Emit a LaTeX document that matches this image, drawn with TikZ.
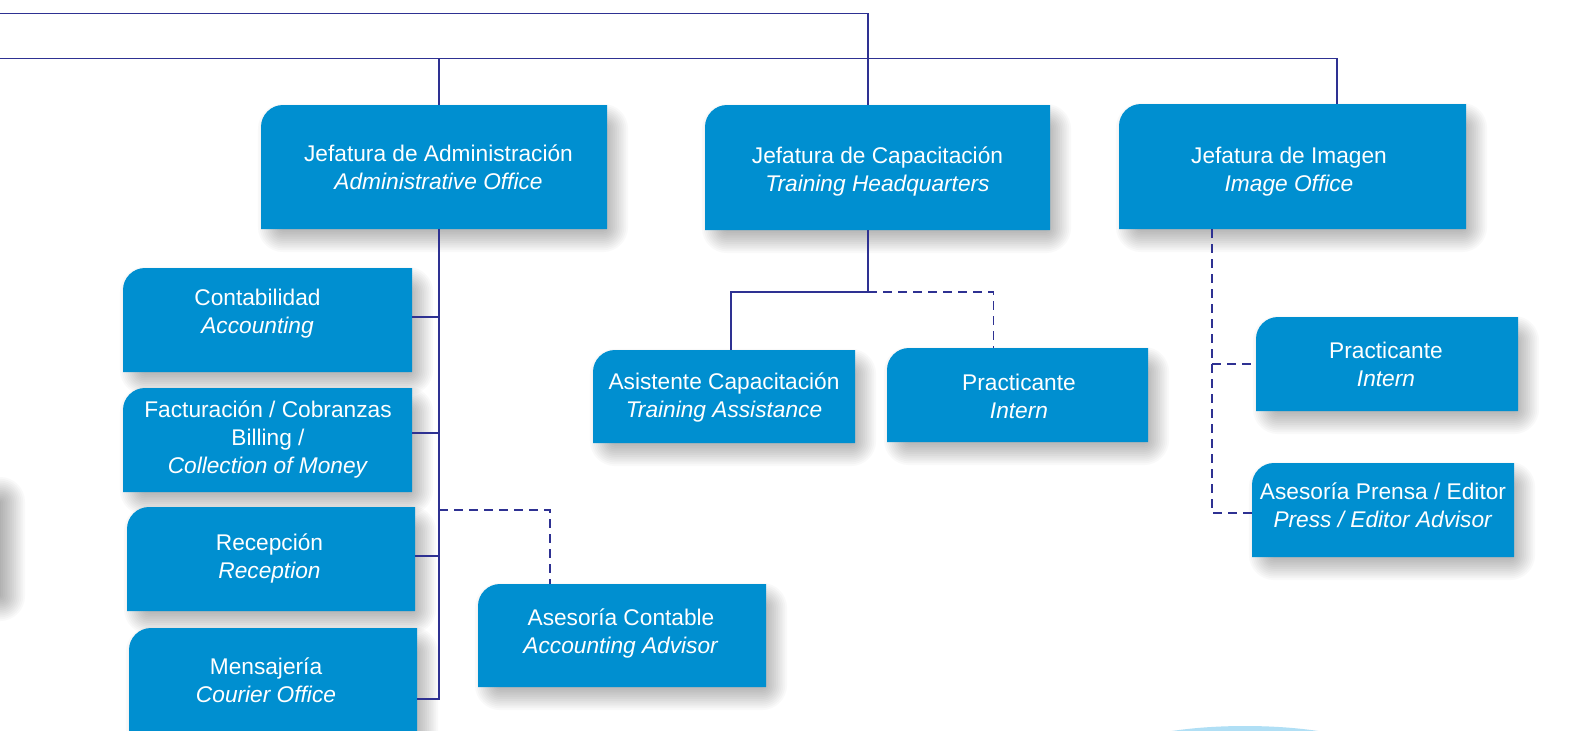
\documentclass[tikz,border=0pt]{standalone}
\usepackage{fontspec}
\setmainfont{Liberation Sans}
\usetikzlibrary{backgrounds,calc}
\definecolor{boxblue}{RGB}{0,143,208}
\definecolor{navy}{RGB}{46,49,146}
\definecolor{paleblue}{RGB}{176,223,245}
\tikzset{
  boxnode/.style={inner sep=0pt, outer sep=0pt, draw=none},
  boxtext/.style={text=white, align=center, inner sep=0pt, font=\fontsize{22.7}{28}\selectfont},
  boxfill/.style={fill=boxblue},
  shadowlayer/.style={fill=black, fill opacity=0.022},
  conn/.style={draw=navy, line width=1.6pt},
  dconn/.style={draw=navy, line width=1.8pt, dash pattern=on 9pt off 6pt},
}
% soft drop shadow: #1 top-left corner, #2 bottom-right corner
\newcommand\softshadow[2]{%
  \foreach \k in {0,...,13}{%
    \pgfmathsetmacro\shT{-13+26*(\k+0.5)/14}%
    \pgfmathsetmacro\shR{max(13-\shT,1)}%
    \fill[shadowlayer, rounded corners=\shR pt] ($#1+(9+\shT,11+\shT)$) rectangle ($#2+(9-\shT,11-\shT)$);
  }}
% #1 name, #2 x1, #3 y1, #4 x2, #5 y2, #6 text dx, #7 text dy, #8 text
\newcommand\orgbox[8]{%
  \node[boxnode, minimum width={(#4-#2)*1pt}, minimum height={(#5-#3)*1pt},
    label={[boxtext, name=#1-t, xshift={(#6)*1pt}, yshift={-(#7)*1pt}]center:{#8}}]
    (#1) at ({(#2+#4)/2},{(#3+#5)/2}) {};
  \begin{scope}[on background layer]
    \softshadow{(#1.north west)}{(#1.south east)}
    \fill[boxfill] (#1.south west) [rounded corners=22pt] -- (#1.north west) [sharp corners] -- (#1.north east) -- (#1.south east) -- cycle;
  \end{scope}}
\begin{document}
\begin{tikzpicture}[x=1pt,y=-1pt]
\useasboundingbox (0,0) rectangle (1588,731);
\begin{scope}[on background layer]
  \fill[white] (0,0) rectangle (1588,731);
  % stray shadow of a box beyond the left edge
  \softshadow{(-300,478)}{(4,598)}
  % pale blue shape at the bottom
  \fill[paleblue] (1245,760) ellipse [x radius=140pt, y radius=34pt];
\end{scope}

\orgbox{adm}{261}{105}{607}{229}{4.5}{0}{Jefatura de Administración\\\textit{Administrative Office}}
\orgbox{cap}{705}{105}{1050}{230}{0}{4}{Jefatura de Capacitación\\\textit{Training Headquarters}}
\orgbox{img}{1119}{104}{1466}{229}{-3.5}{5}{Jefatura de Imagen\\\textit{Image Office}}
\orgbox{cont}{123}{268}{412}{372}{-10}{-6}{Contabilidad\\\textit{Accounting}}
\orgbox{pr2}{1256}{317}{1518}{411}{-1}{0}{Practicante\\\textit{Intern}}
\orgbox{pr1}{887}{348}{1148}{442}{1.5}{1}{Practicante\\\textit{Intern}}
\orgbox{asis}{593}{350}{855}{443}{0}{1}{Asistente Capacitación\\\textit{Training Assistance}}
\orgbox{fact}{123}{388}{412}{492}{0.5}{-1}{Facturación / Cobranzas\\Billing /\\\textit{Collection of Money}}
\orgbox{pre}{1252}{463}{1514}{557}{0}{-5}{Asesoría Prensa / Editor\\\textit{Press / Editor Advisor}}
\orgbox{rec}{127}{507}{415}{611}{-1.5}{-1}{Recepción\\\textit{Reception}}
\orgbox{asc}{478}{584}{766}{687}{-1}{-2}{Asesoría Contable\\\textit{Accounting Advisor}}
\orgbox{mens}{129}{628}{417}{732}{-7}{0}{Mensajería\\\textit{Courier Office}}

% trunk coordinates
\coordinate (L1) at (0,13.5);
\coordinate (L2) at (0,58.5);
\coordinate (admX) at (439,0);
\coordinate (capX) at (868,0);
\coordinate (imgX) at (1337,0);
\coordinate (capJ) at (868,291.7);
\coordinate (asisX) at (731,0);
\coordinate (pr1X) at (993.5,0);
\coordinate (ascJ) at (550,510);
\coordinate (imgD) at (1212,0);

% top lines
\draw[conn] (L1) -| (capX |- cap.north);
\draw[conn] (L2) -| (imgX |- img.north);
\draw[conn] (L2 -| admX) -- (admX |- adm.north);

% administration branch
\draw[conn] (admX |- adm.south) |- ($(mens.east)+(0,19)$);
\draw[conn] ($(cont.east)+(0,-3.3)$) coordinate (cE) -- (cE -| admX);
\draw[conn] ($(fact.east)+(0,-7)$) coordinate (fE) -- (fE -| admX);
\draw[conn] ($(rec.east)+(0,-3.3)$) coordinate (rE) -- (rE -| admX);
\draw[dconn] (admX |- ascJ) -| (ascJ |- asc.north);

% training branch
\draw[conn] (capX |- cap.south) -- (capJ);
\draw[conn] (capJ) -| (asisX |- asis.north);
\draw[dconn] (capJ) -| (pr1X |- pr1.north);

% image branch
\draw[dconn] (imgD |- img.south) |- ($(pre.west)+(0,2.7)$);
\draw[dconn] (imgD |- pr2.west) -- (pr2.west);
\end{tikzpicture}
\end{document}
